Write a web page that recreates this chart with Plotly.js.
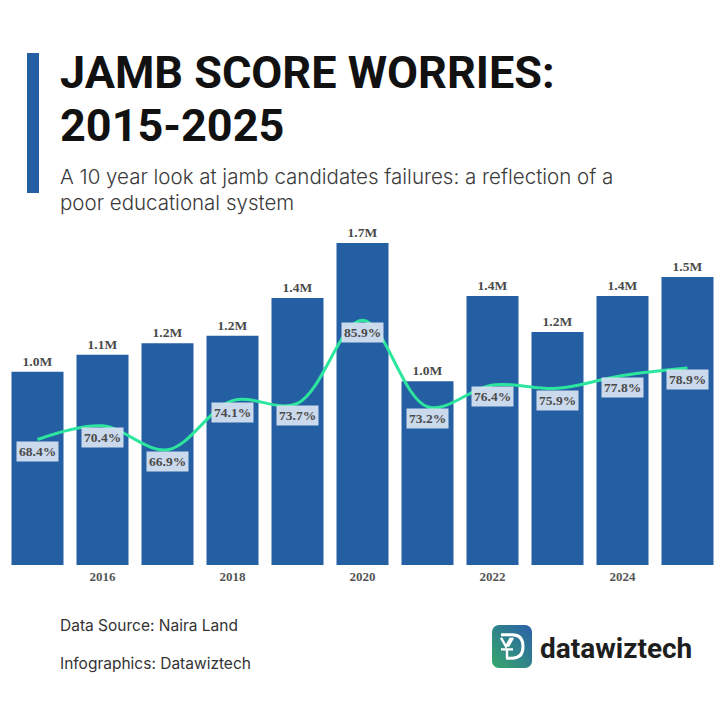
<!DOCTYPE html>
<html>
<head>
<meta charset="utf-8">
<script src="https://cdn.plot.ly/plotly-3.0.1.min.js"></script>
<style>
  html, body { margin: 0; padding: 0; background: #ffffff; }
  #chart { width: 720px; height: 720px; }
</style>
</head>
<body>
<div id="chart"></div>
<script>
// ---- Data ----
const years = [2015, 2016, 2017, 2018, 2019, 2020, 2021, 2022, 2023, 2024, 2025];
const candidatesMillions = [1.02, 1.11, 1.17, 1.21, 1.41, 1.70, 0.97, 1.42, 1.23, 1.42, 1.52];
const failureRate = [68.4, 70.4, 66.9, 74.1, 73.7, 85.9, 73.2, 76.4, 75.9, 77.8, 78.9];
const tickYears = [2016, 2018, 2020, 2022, 2024];
const tickLabels = ["2016", "2018", "2020", "2022", "2024"];

const titleLine1 = "JAMB SCORE WORRIES:";
const titleLine2 = "2015-2025";
const subtitleLine1 = "A 10 year look at jamb candidates failures: a reflection of a";
const subtitleLine2 = "poor educational system";
const sourceText = "Data Source: Naira Land";
const creditText = "Infographics: Datawiztech";
const brandText = "datawiztech";

// ---- Styles ----
const barColor = "#245FA4";
const lineColor = "#2DE69E";
const serifFamily = "Liberation Serif, Times New Roman, serif";
const sansFamily = "Inter, Roboto, sans-serif";

const bars = {
  type: "bar",
  x: years,
  y: candidatesMillions,
  marker: { color: barColor },
  texttemplate: "%{y:.1f}M",
  textposition: "outside",
  textfont: { family: serifFamily, size: 13.5, color: "#4a4a4a", weight: 700 },
  cliponaxis: false,
  hoverinfo: "skip"
};

const line = {
  type: "scatter",
  mode: "lines",
  x: years,
  y: failureRate,
  yaxis: "y2",
  line: { color: lineColor, width: 3, shape: "spline", smoothing: 1 },
  hoverinfo: "skip"
};

const rateLabels = failureRate.map((v, i) => ({
  x: years[i], y: v, xref: "x", yref: "y2",
  text: v.toFixed(1) + "%",
  showarrow: false,
  yshift: -12,
  bgcolor: "rgba(212,223,240,0.95)",
  borderpad: 2,
  font: { family: serifFamily, size: 13.5, color: "#4a4a4a", weight: 700 }
}));

// paper-coordinate helpers for text blocks (plot area: x 5..720, y 224..565 px)
const px = v => (v - 5) / 715;
const py = v => (565 - v) / 341;

const textAnnotations = [
  { text: titleLine1, x: px(58), y: py(73), xanchor: "left", yanchor: "middle",
    font: { family: "Roboto, Inter, sans-serif", size: 45, color: "#111111", weight: 700 } },
  { text: titleLine2, x: px(58), y: py(125), xanchor: "left", yanchor: "middle",
    font: { family: "Roboto, Inter, sans-serif", size: 45, color: "#111111", weight: 700 } },
  { text: subtitleLine1, x: px(58), y: py(177), xanchor: "left", yanchor: "middle",
    font: { family: sansFamily, size: 20.5, color: "#3a3a3a", weight: 300 } },
  { text: subtitleLine2, x: px(58), y: py(202), xanchor: "left", yanchor: "middle",
    font: { family: sansFamily, size: 20.5, color: "#3a3a3a", weight: 300 } },
  { text: sourceText, x: px(58), y: py(625), xanchor: "left", yanchor: "middle",
    font: { family: sansFamily, size: 15.5, color: "#333333" } },
  { text: creditText, x: px(58), y: py(663), xanchor: "left", yanchor: "middle",
    font: { family: sansFamily, size: 15.5, color: "#333333" } },
  { text: brandText, x: px(538), y: py(648), xanchor: "left", yanchor: "middle",
    font: { family: "Roboto, sans-serif", size: 28, color: "#1e1e1e", weight: 700 } }
].map(a => Object.assign({ xref: "paper", yref: "paper", showarrow: false }, a));

const logoSvg =
  '<svg xmlns="http://www.w3.org/2000/svg" width="40" height="44" viewBox="0 0 40 44">' +
  '<defs><linearGradient id="g" x1="0" y1="1" x2="1" y2="0">' +
  '<stop offset="0" stop-color="#36A86A"/><stop offset="1" stop-color="#2A5FAA"/></linearGradient></defs>' +
  '<rect x="0" y="0" width="40" height="44" rx="7" fill="url(#g)"/>' +
  '<path d="M9 10 L20 10 Q31 10 31 22 Q31 34 20 34 L14 34" fill="none" stroke="#fff" stroke-width="3"/>' +
  '<path d="M9 13 L14 22 L19 13 M21 13 L16 22" fill="none" stroke="#fff" stroke-width="2.4"/>' +
  '<path d="M9 25 L21 25 M15 25 L15 34" fill="none" stroke="#fff" stroke-width="2.4"/>' +
  '</svg>';

const layout = {
  width: 720, height: 720,
  margin: { l: 5, r: 0, t: 224, b: 155 },
  paper_bgcolor: "#ffffff",
  plot_bgcolor: "#ffffff",
  showlegend: false,
  bargap: 0.2,
  xaxis: {
    range: [2014.5, 2025.5],
    tickvals: tickYears,
    ticktext: tickLabels,
    tickfont: { family: serifFamily, size: 13, color: "#555555", weight: 700 },
    ticklabelstandoff: 2,
    showgrid: false, zeroline: false, showline: false, ticks: "", fixedrange: true
  },
  yaxis: { range: [0, 1.8], visible: false, fixedrange: true },
  yaxis2: { range: [50, 100], overlaying: "y", visible: false, fixedrange: true },
  shapes: [
    { type: "rect", xref: "paper", yref: "paper",
      x0: px(27), x1: px(39), y0: py(193), y1: py(53),
      fillcolor: barColor, line: { width: 0 } }
  ],
  images: [
    { source: "data:image/svg+xml;charset=utf-8," + encodeURIComponent(logoSvg),
      xref: "paper", yref: "paper", x: px(492), y: py(625),
      sizex: 40 / 715, sizey: 43 / 341, xanchor: "left", yanchor: "top",
      sizing: "stretch", layer: "above" }
  ],
  annotations: rateLabels.concat(textAnnotations)
};

Plotly.newPlot("chart", [bars, line], layout, { displayModeBar: false, staticPlot: true });
</script>
</body>
</html>
